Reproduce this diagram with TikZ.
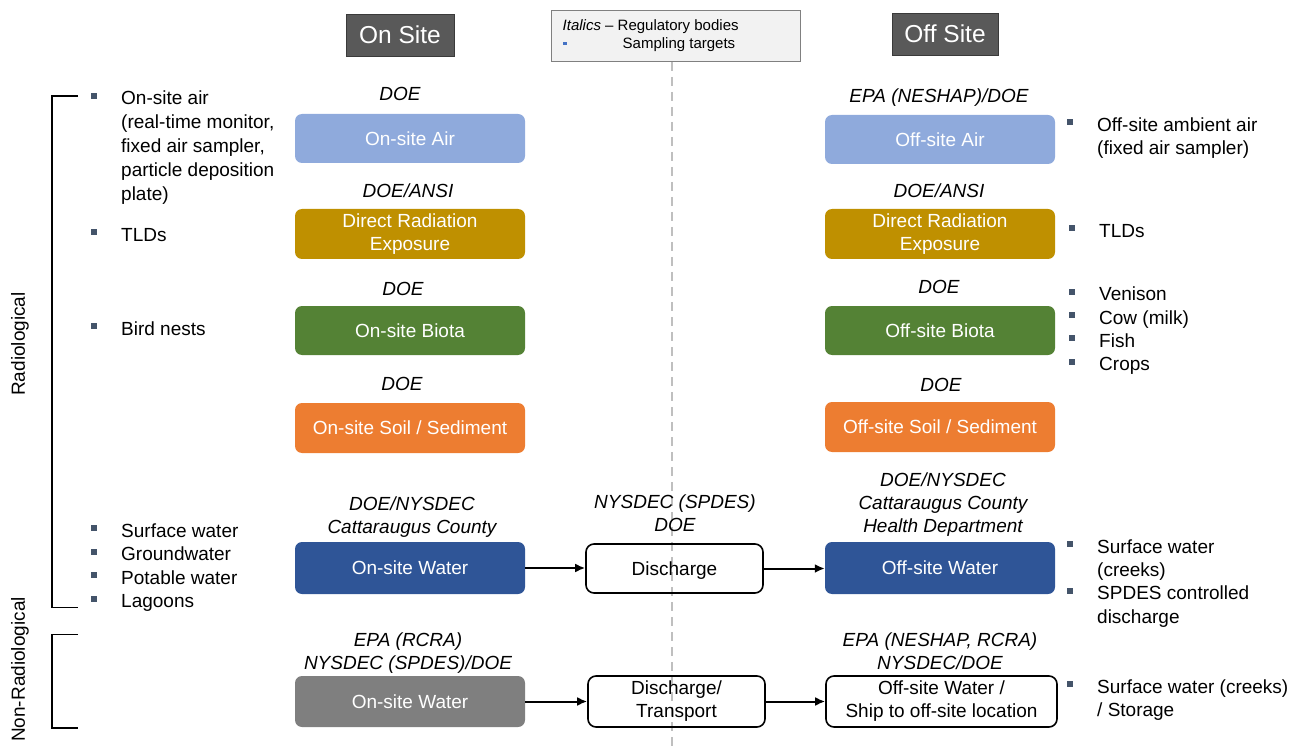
\documentclass[tikz,border=0pt]{standalone}
\usepackage{fontspec}
\setmainfont{Liberation Sans}
\usetikzlibrary{arrows.meta}
\definecolor{cAir}{HTML}{8FAADC}
\definecolor{cRad}{HTML}{BF9000}
\definecolor{cBio}{HTML}{548235}
\definecolor{cSoil}{HTML}{ED7D31}
\definecolor{cWat}{HTML}{2F5597}
\definecolor{cGray}{HTML}{7F7F7F}
\definecolor{cHead}{HTML}{595959}
\definecolor{cHeadB}{HTML}{3A3A3A}
\definecolor{bulc}{HTML}{44546A}
\definecolor{legbul}{HTML}{4472C4}
\definecolor{legfill}{HTML}{F2F2F2}
\definecolor{legdraw}{HTML}{808080}
\definecolor{dashc}{HTML}{BFBFBF}
\newcommand\bul{\makebox[30pt][l]{\textcolor{bulc}{\rule[6.3pt]{6pt}{6pt}}}}
\newcommand\lbl[1]{\begin{tabular}[t]{@{}c@{}}#1\end{tabular}}
\newcommand\blist[1]{\begin{tabular}[t]{@{}l@{}l@{}}#1\end{tabular}}
\tikzset{
  cbox/.style={rounded corners=7pt, minimum width=230pt, minimum height=50pt, inner sep=0pt,
    text=white, align=center, font=\fontsize{19}{23}\selectfont},
  wbox/.style={rounded corners=8pt, draw=black, line width=1.6pt, minimum height=50pt, inner sep=0pt,
    text=black, align=center, font=\fontsize{19}{23}\selectfont},
  reg/.style={anchor=base, inner sep=0pt, font=\fontsize{19}{23}\selectfont\itshape},
  lst/.style={anchor=base west, inner sep=0pt, font=\fontsize{19}{23.3}\selectfont},
  head/.style={fill=cHead, draw=cHeadB, line width=0.8pt, text=white, inner sep=0pt,
    minimum height=42pt, font=\fontsize{24.5}{28}\selectfont},
  arr/.style={draw=black, line width=2pt, -{Latex[length=10pt,width=9pt]}},
  brk/.style={line width=1.8pt},
}
\begin{document}
\begin{tikzpicture}[x=1pt,y=-1pt]
\useasboundingbox (0,0) rectangle (1299,746);
% dashed divider
\coordinate (dTop) at (672,62);
\coordinate (dBot) at (672,746);
\draw[dashc, line width=1.5pt, dash pattern=on 9pt off 6pt] (dTop) -- (dBot);

% headers
\node[head, minimum width=108pt] (onHead) at (400,35) {On Site};
\node[head, minimum width=106pt] (offHead) at (945,34) {Off Site};

% legend
\node[fill=legfill, draw=legdraw, line width=0.8pt, minimum width=249pt, minimum height=51pt, inner sep=0pt] (legend) at (675.5,35.5) {};
\node[anchor=base west, inner sep=0pt, font=\fontsize{15}{18}\selectfont] (legA) at (562.5,31) {\textit{Italics} -- Regulatory bodies};
\node[fill=legbul, inner sep=0pt, minimum width=3.6pt, minimum height=3.6pt] (legBul) at (565,43.7) {};
\node[anchor=base west, inner sep=0pt, font=\fontsize{15}{18}\selectfont] (legB) at (622.5,49) {Sampling targets};

% on-site boxes
\node[cbox, fill=cAir, minimum height=49pt] (onAir) at (410,138.5) {On-site Air};
\node[cbox, fill=cRad] (onRad) at (410,234) {Direct Radiation\\Exposure};
\node[cbox, fill=cBio, minimum height=49pt] (onBio) at (410,330.5) {On-site Biota};
\node[cbox, fill=cSoil] (onSoil) at (410,428) {On-site Soil / Sediment};
\node[cbox, fill=cWat, minimum height=52pt] (onWat) at (410,568) {On-site Water};
\node[cbox, fill=cGray, minimum height=51pt] (onWatB) at (410,701.5) {On-site Water};

% off-site boxes
\node[cbox, fill=cAir, minimum height=49pt] (offAir) at (940,139.5) {Off-site Air};
\node[cbox, fill=cRad] (offRad) at (940,234) {Direct Radiation\\Exposure};
\node[cbox, fill=cBio, minimum height=49pt] (offBio) at (940,330.5) {Off-site Biota};
\node[cbox, fill=cSoil] (offSoil) at (940,427) {Off-site Soil / Sediment};
\node[cbox, fill=cWat, minimum height=52pt] (offWat) at (940,568) {Off-site Water};
\node[wbox, minimum width=231pt, minimum height=51pt] (offWatB) at (941.5,701.5) {Off-site Water /\\Ship to off-site location};

% middle boxes
\node[wbox, minimum width=177pt, minimum height=49pt] (dis) at (674.5,568.5) {Discharge\rule{0pt}{18pt}};
\node[wbox, minimum width=177pt, minimum height=51pt] (disB) at (676.5,701.5) {Discharge/\\Transport};

% arrows
\draw[arr] (onWat.east) -- (onWat.east -| dis.west);
\draw[arr] (dis.east) -- (dis.east -| offWat.west);
\draw[arr] (onWatB.east) -- (onWatB.east -| disB.west);
\draw[arr] (disB.east) -- (disB.east -| offWatB.west);

% regulatory labels (on site)
\node[reg] (rOnAir) at (400,101) {DOE};
\node[reg] (rOnRad) at (408,198) {DOE/ANSI};
\node[reg] (rOnBio) at (403,295.5) {DOE};
\node[reg] (rOnSoil) at (402,390.5) {DOE};
\node[reg] (rOnWat) at (412,510) {\lbl{DOE/NYSDEC\\Cattaraugus County}};
\node[reg] (rOnWatB) at (408,646) {\lbl{EPA (RCRA)\\NYSDEC (SPDES)/DOE}};
% regulatory labels (off site)
\node[reg] (rOffAir) at (939,102.5) {EPA (NESHAP)/DOE};
\node[reg] (rOffRad) at (939,198) {DOE/ANSI};
\node[reg] (rOffBio) at (939,293.5) {DOE};
\node[reg] (rOffSoil) at (941,391.5) {DOE};
\node[reg] (rOffWat) at (943,486) {\lbl{DOE/NYSDEC\\Cattaraugus County\\Health Department}};
\node[reg] (rOffWatB) at (940,646) {\lbl{EPA (NESHAP, RCRA)\\NYSDEC/DOE}};
% middle label
\node[reg] (rDis) at (675,508.3) {\lbl{NYSDEC (SPDES)\\DOE}};

% left bullet lists
\node[lst, font=\fontsize{19}{24}\selectfont] (lAir) at (91,105) {\blist{\bul & On-site air\\ & (real-time monitor,\\ & fixed air sampler,\\ & particle deposition\\ & plate)}};
\node[lst] (lTLD) at (91,241.5) {\blist{\bul & TLDs}};
\node[lst] (lBio) at (91,335) {\blist{\bul & Bird nests}};
\node[lst, font=\fontsize{19}{23.5}\selectfont] (lWat) at (91,537.3) {\blist{\bul & Surface water\\ \bul & Groundwater\\ \bul & Potable water\\ \bul & Lagoons}};

% right bullet lists
\node[lst] (rAir) at (1067,131.7) {\blist{\bul & Off-site ambient air\\ & (fixed air sampler)}};
\node[lst] (rTLD) at (1069,237.7) {\blist{\bul & TLDs}};
\node[lst] (rBio) at (1069,301) {\blist{\bul & Venison\\ \bul & Cow (milk)\\ \bul & Fish\\ \bul & Crops}};
\node[lst, font=\fontsize{19}{23.3}\selectfont] (rWat) at (1067,553.3) {\blist{\bul & Surface water\\ & (creeks)\\ \bul & SPDES controlled\\ & discharge}};
\node[lst, font=\fontsize{19}{22.7}\selectfont] (rWatB) at (1067,693.3) {\blist{\bul & Surface water (creeks)\\ & / Storage}};

% brackets
\coordinate (b1a) at (78,96);
\coordinate (b1b) at (52,96);
\coordinate (b1c) at (52,607.5);
\coordinate (b1d) at (78,607.5);
\draw[brk] (b1a) -- (b1b) -- (b1c) -- (b1d);
\coordinate (b2a) at (78,634.5);
\coordinate (b2b) at (52,634.5);
\coordinate (b2c) at (52,728);
\coordinate (b2d) at (78,728);
\draw[brk] (b2a) -- (b2b) -- (b2c) -- (b2d);
\node[rotate=90, inner sep=0pt, font=\fontsize{19}{23}\selectfont] (tRad) at (20,344) {Radiological};
\node[rotate=90, inner sep=0pt, font=\fontsize{19}{23}\selectfont] (tNonRad) at (20,669.5) {Non-Radiological};
\end{tikzpicture}
\end{document}
